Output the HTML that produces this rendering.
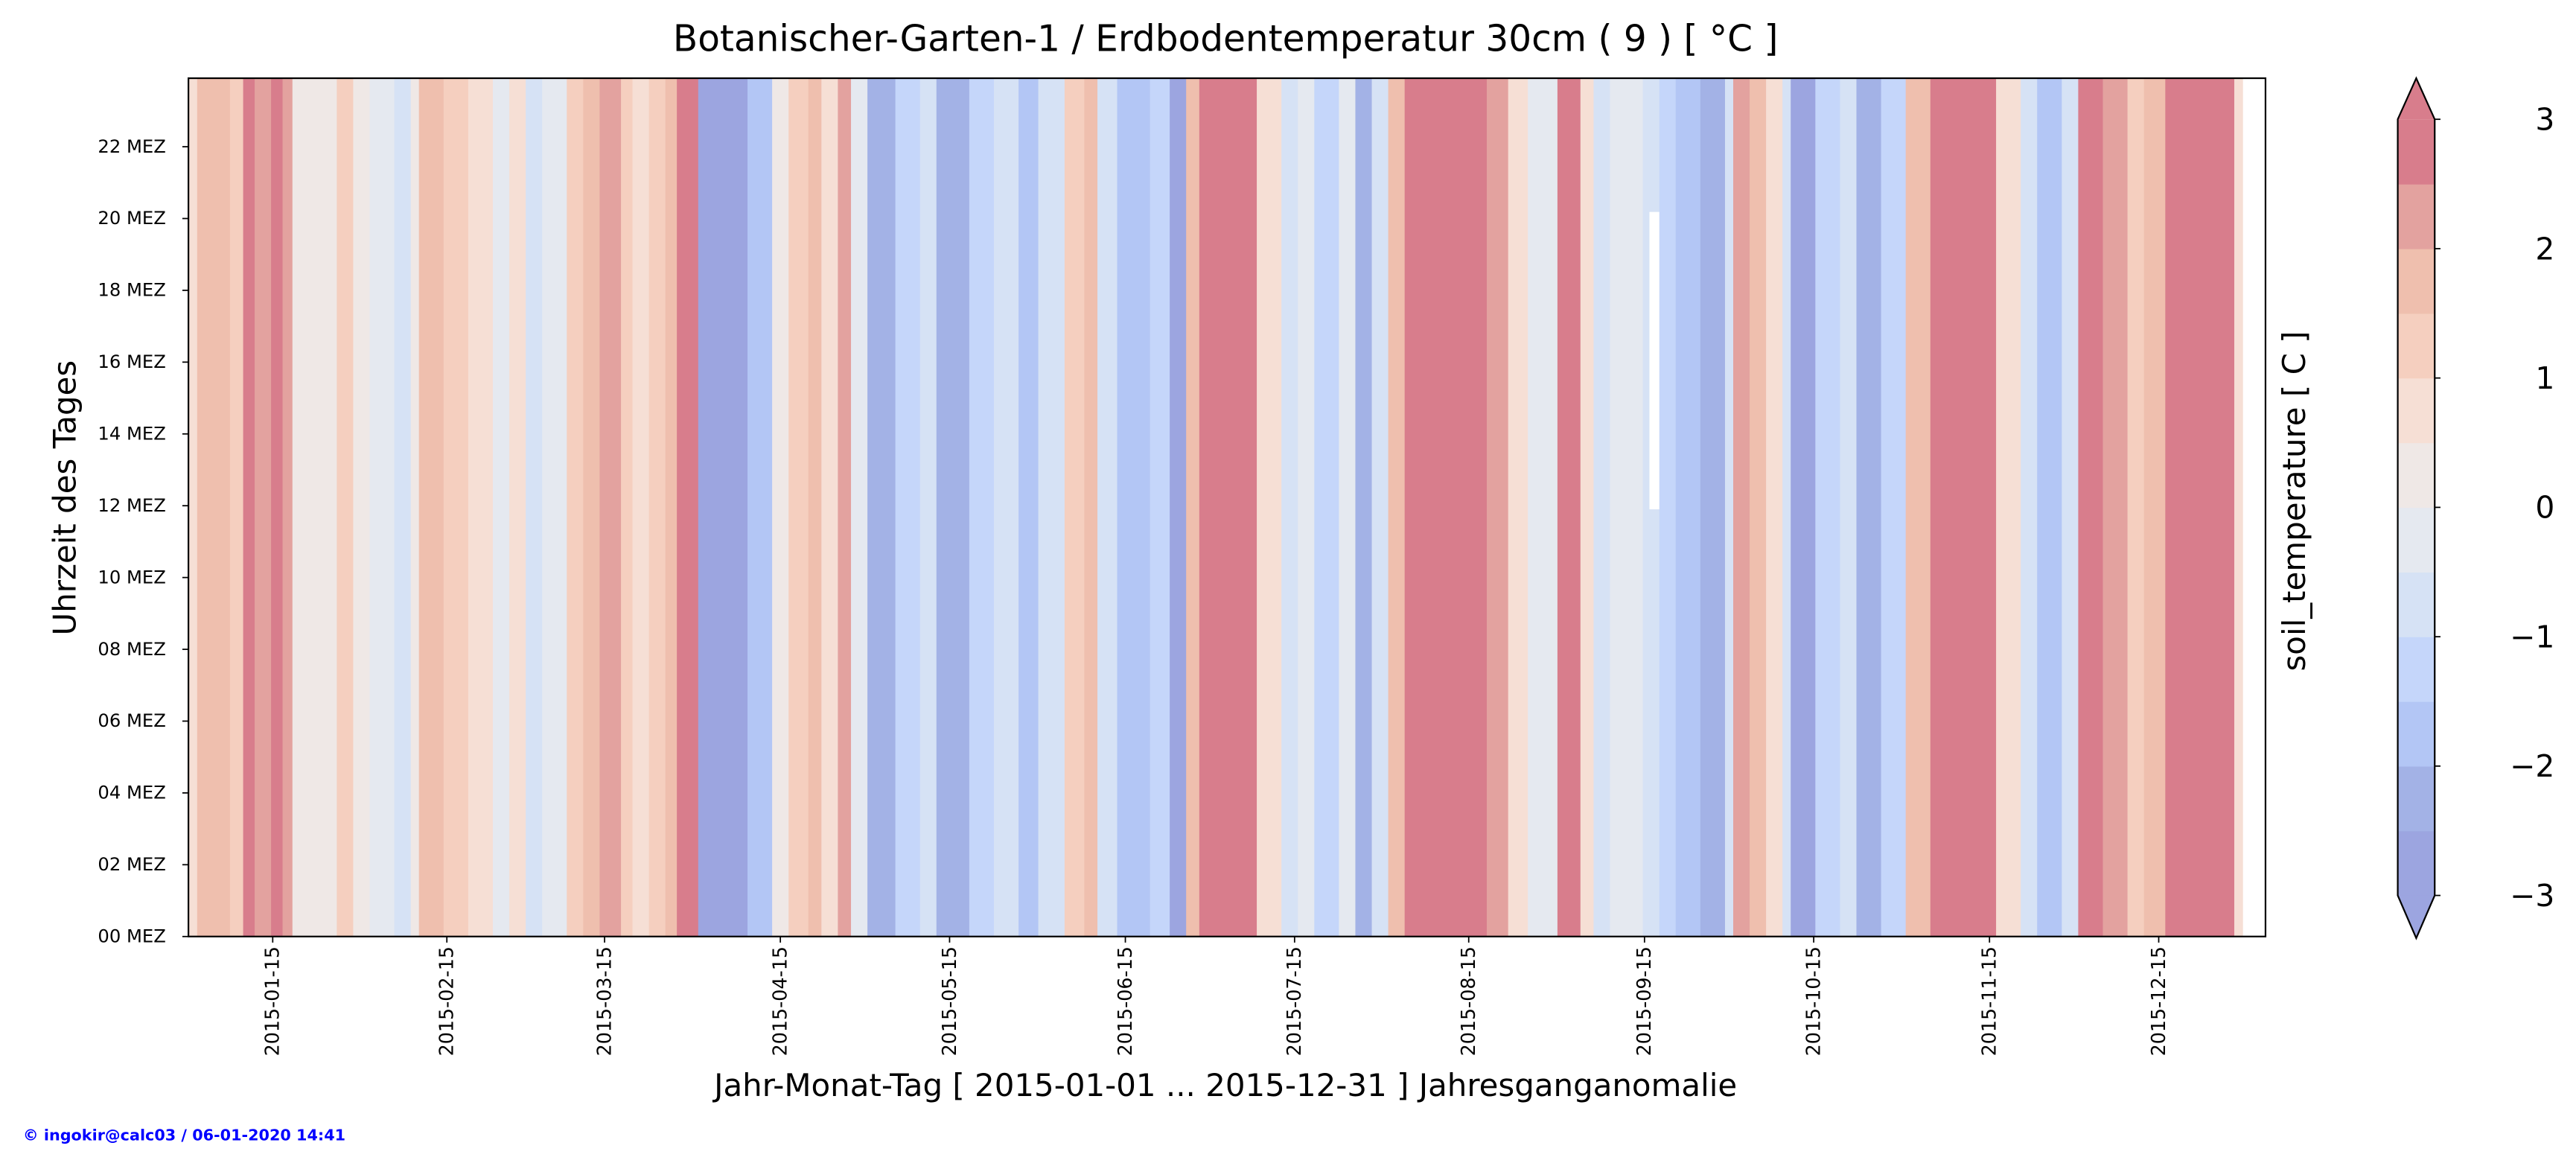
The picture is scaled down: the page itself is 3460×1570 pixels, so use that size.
<!DOCTYPE html>
<html><head><meta charset="utf-8"><style>html,body{margin:0;padding:0;background:#fff}svg{display:block}</style></head>
<body>
<svg xmlns="http://www.w3.org/2000/svg" width="3460" height="1570" viewBox="0 0 1568 711.5" preserveAspectRatio="none" font-family="'DejaVu Sans','Liberation Sans',sans-serif">
<rect width="1568" height="711.5" fill="#fff"/>
<g id="stripes"></g>
<script><![CDATA[
var C={r5:'#d87d8c',r4:'#e3a29f',r3:'#efbfae',r2:'#f5cfbf',r1:'#f6dfd5',r0:'#efe8e6',b0:'#e5e9f0',b1:'#d6e2f5',b2:'#c5d6fa',b3:'#b3c6f5',b4:'#a3b2e6',b5:'#9ca5e0'};
var s=[[115,120,'r1'],[120,140,'r3'],[140,148,'r2'],[148,155,'r5'],[155,165,'r4'],[165,172,'r5'],[172,178,'r4'],[178,205,'r0'],[205,215,'r2'],[215,225,'r0'],[225,240,'b0'],[240,250,'b1'],[250,255,'r0'],[255,270,'r3'],[270,285,'r2'],[285,300,'r1'],[300,310,'b0'],[310,320,'r1'],[320,330,'b1'],[330,345,'b0'],[345,355,'r2'],[355,365,'r3'],[365,378,'r4'],[378,385,'r2'],[385,395,'r1'],[395,405,'r2'],[405,412,'r3'],[412,425,'r5'],[425,455,'b5'],[455,470,'b3'],[470,480,'r0'],[480,492,'r2'],[492,500,'r3'],[500,510,'r1'],[510,518,'r4'],[518,528,'b0'],[528,545,'b4'],[545,560,'b2'],[560,570,'b1'],[570,590,'b4'],[590,605,'b2'],[605,620,'b1'],[620,632,'b3'],[632,648,'b1'],[648,660,'r2'],[660,668,'r3'],[668,680,'b1'],[680,700,'b3'],[700,712,'b2'],[712,722,'b5'],[722,730,'r3'],[730,765,'r5'],[765,780,'r1'],[780,790,'b1'],[790,800,'b0'],[800,815,'b2'],[815,825,'b0'],[825,835,'b4'],[835,845,'b1'],[845,855,'r3'],[855,905,'r5'],[905,918,'r4'],[918,930,'r1'],[930,948,'b0'],[948,962,'r5'],[962,970,'r1'],[970,980,'b1'],[980,1000,'b0'],[1000,1010,'b1'],[1010,1020,'b2'],[1020,1035,'b3'],[1035,1050,'b4'],[1050,1055,'b1'],[1055,1065,'r4'],[1065,1075,'r3'],[1075,1085,'r1'],[1085,1090,'b1'],[1090,1105,'b5'],[1105,1120,'b2'],[1120,1130,'b1'],[1130,1145,'b4'],[1145,1160,'b2'],[1160,1175,'r3'],[1175,1215,'r5'],[1215,1230,'r1'],[1230,1240,'b1'],[1240,1255,'b3'],[1255,1265,'b1'],[1265,1280,'r5'],[1280,1295,'r4'],[1295,1305,'r2'],[1305,1318,'r3'],[1318,1360,'r5'],[1360,1365,'r1']];
var g=document.getElementById('stripes'),h='';
s.forEach(function(a){h+='<rect x="'+a[0]+'" y="47.6" width="'+(a[1]-a[0]+0.3)+'" height="522.4" fill="'+C[a[2]]+'"/>';});
h+='<rect x="1004" y="129" width="6" height="181" fill="#fff"/>';
g.innerHTML=h;
]]></script>
<rect x="114.7" y="47.6" width="1264.3" height="522.4" fill="none" stroke="#000" stroke-width="1"/>
<text x="746" y="31" font-size="22" text-anchor="middle">Botanischer-Garten-1 / Erdbodentemperatur 30cm ( 9 ) [ °C ]</text>
<g font-size="11" text-anchor="end">
<g stroke="#000" stroke-width="0.8">
<line x1="111" x2="114.7" y1="570" y2="570"/><line x1="111" x2="114.7" y1="526.3" y2="526.3"/><line x1="111" x2="114.7" y1="482.6" y2="482.6"/><line x1="111" x2="114.7" y1="438.9" y2="438.9"/><line x1="111" x2="114.7" y1="395.2" y2="395.2"/><line x1="111" x2="114.7" y1="351.5" y2="351.5"/><line x1="111" x2="114.7" y1="307.8" y2="307.8"/><line x1="111" x2="114.7" y1="264.1" y2="264.1"/><line x1="111" x2="114.7" y1="220.4" y2="220.4"/><line x1="111" x2="114.7" y1="176.7" y2="176.7"/><line x1="111" x2="114.7" y1="133" y2="133"/><line x1="111" x2="114.7" y1="89.3" y2="89.3"/>
</g>
<text x="101" y="573.5">00 MEZ</text><text x="101" y="529.8">02 MEZ</text><text x="101" y="486.1">04 MEZ</text><text x="101" y="442.4">06 MEZ</text><text x="101" y="398.7">08 MEZ</text><text x="101" y="355">10 MEZ</text><text x="101" y="311.3">12 MEZ</text><text x="101" y="267.6">14 MEZ</text><text x="101" y="223.9">16 MEZ</text><text x="101" y="180.2">18 MEZ</text><text x="101" y="136.5">20 MEZ</text><text x="101" y="92.8">22 MEZ</text>
</g>
<text transform="translate(46,303) rotate(-90)" font-size="19" text-anchor="middle">Uhrzeit des Tages</text>
<g id="xt" font-size="11.5" text-anchor="end"></g>
<script><![CDATA[
var xs=[166,272,368,475,578,685,788,894,1001,1104,1211,1314],m=['01','02','03','04','05','06','07','08','09','10','11','12'],o='';
xs.forEach(function(x,i){o+='<line x1="'+x+'" x2="'+x+'" y1="570" y2="573.7" stroke="#000" stroke-width="0.8"/><text transform="translate('+(x+3.8)+',576) rotate(-90)">2015-'+m[i]+'-15</text>';});
document.getElementById('xt').innerHTML=o;
]]></script>
<text x="746" y="667" font-size="19" text-anchor="middle">Jahr-Monat-Tag [ 2015-01-01 ... 2015-12-31 ] Jahresganganomalie</text>
<text x="14" y="694" font-size="9.4" font-weight="bold" fill="#0000ff">© ingokir@calc03 / 06-01-2020 14:41</text>
<text transform="translate(1403,305) rotate(-90)" font-size="19" text-anchor="middle">soil_temperature [ C ]</text>
<g id="cb"></g>
<script><![CDATA[
var cols=['#9ca5e0','#a3b2e6','#b3c6f5','#c5d6fa','#d6e2f5','#e5e9f0','#efe8e6','#f6dfd5','#f5cfbf','#efbfae','#e3a29f','#d87d8c'],t='';
var x0=1459.5,x1=1482,yb=545,yt=72.6,bh=(yb-yt)/12;
for(var i=0;i<12;i++){t+='<rect x="'+x0+'" y="'+(yb-(i+1)*bh)+'" width="'+(x1-x0)+'" height="'+(bh+0.3)+'" fill="'+cols[i]+'"/>';}
t+='<polygon points="'+x0+','+yb+' '+x1+','+yb+' '+((x0+x1)/2)+',571" fill="#9ca5e0"/>';
t+='<polygon points="'+x0+','+yt+' '+x1+','+yt+' '+((x0+x1)/2)+',47.6" fill="#d87d8c"/>';
t+='<polygon points="'+x0+','+yt+' '+((x0+x1)/2)+',47.6 '+x1+','+yt+' '+x1+','+yb+' '+((x0+x1)/2)+',571 '+x0+','+yb+'" fill="none" stroke="#000" stroke-width="1"/>';
var L=['\u22123','\u22122','\u22121','0','1','2','3'];
for(var k=0;k<7;k++){var y=yb-k*2*bh;t+='<line x1="'+x1+'" x2="'+(x1+3.5)+'" y1="'+y+'" y2="'+y+'" stroke="#000" stroke-width="0.8"/><text x="1555" y="'+(y+6.5)+'" font-size="18.5" text-anchor="end">'+L[k]+'</text>';}
document.getElementById('cb').innerHTML=t;
]]></script>
</svg>
</body></html>
